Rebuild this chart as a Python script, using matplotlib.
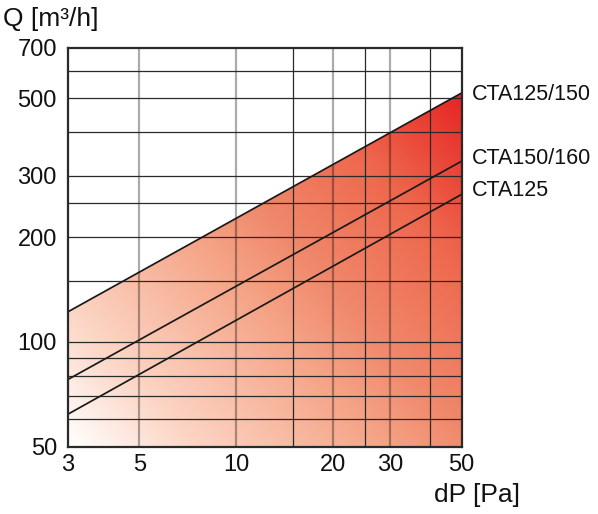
import numpy as np
import matplotlib
matplotlib.use("Agg")
import matplotlib.pyplot as plt
from matplotlib.colors import LinearSegmentedColormap
from matplotlib.ticker import FixedLocator, NullLocator, NullFormatter

plt.rcParams['font.family'] = ['Liberation Sans', 'DejaVu Sans']

# Data
dp_ends = [3, 50]
q_cta125_150 = [122, 518]
q_cta150_160 = [78, 330]
q_cta125 = [62, 265]
series_labels = ["CTA125/150", "CTA150/160", "CTA125"]

x_ticks = [3, 5, 10, 20, 30, 50]
y_ticks = [50, 100, 200, 300, 500, 700]
x_grid_light = [5, 10, 20, 30]
x_grid_dark = [15, 25, 40]
y_grid = [60, 70, 80, 90, 100, 150, 200, 250, 300, 400, 500, 600]

fig = plt.figure(figsize=(5.98, 5.14), dpi=100)
ax = fig.add_axes([68 / 598, 67.3 / 514, (461.5 - 68) / 598, (446.7 - 47.5) / 514])
ax.set_xscale('log')
ax.set_yscale('log')
ax.set_xlim(3, 50)
ax.set_ylim(50, 700)

# gradient fill under the top line
cmap = LinearSegmentedColormap.from_list('grad', [
    (0.0, '#ffffff'), (0.17, '#fcd6c6'), (0.44, '#f5a487'),
    (0.57, '#f0886b'), (0.78, '#ee674d'), (1.0, '#e62323')])
n = 300
u, v = np.meshgrid(np.linspace(0, 1, n), np.linspace(0, 1, n))
t = np.clip(0.55 * u + 0.5 * v, 0, 1)
im = ax.imshow(t, cmap=cmap, vmin=0, vmax=1, origin='lower', extent=[0, 1, 0, 1],
               transform=ax.transAxes, aspect='auto', zorder=0, interpolation='bilinear')
poly = ax.fill_between(dp_ends, [50, 50], q_cta125_150, facecolor='none', edgecolor='none')
im.set_clip_path(poly.get_paths()[0], transform=ax.transData)

# grid
for xv in x_grid_light:
    ax.axvline(xv, color='black', alpha=0.33, lw=1.6, zorder=1)
for xv in x_grid_dark:
    ax.axvline(xv, color='#2a2a2a', lw=0.9, zorder=1)
for yv in y_grid:
    ax.axhline(yv, color='#2a2a2a', lw=0.9, zorder=1)

# lines
for q in (q_cta125_150, q_cta150_160, q_cta125):
    ax.plot(dp_ends, q, color='#1a1a1a', lw=1.25, zorder=3, solid_capstyle='butt')

ax.xaxis.set_major_locator(FixedLocator(x_ticks))
ax.yaxis.set_major_locator(FixedLocator(y_ticks))
ax.xaxis.set_minor_locator(NullLocator())
ax.yaxis.set_minor_locator(NullLocator())
ax.xaxis.set_minor_formatter(NullFormatter())
ax.yaxis.set_minor_formatter(NullFormatter())
ax.set_xticklabels([str(x) for x in x_ticks])
ax.set_yticklabels([str(y) for y in y_ticks])
ax.tick_params(axis='both', length=0, labelsize=17, colors='#111111')
ax.tick_params(axis='y', pad=8)
ax.tick_params(axis='x', pad=5)

for s in ax.spines.values():
    s.set_color('#2a2a2a')
    s.set_linewidth(1.6)
    s.set_zorder(4)

# labels
fig.text(3 / 598, 1 - 19 / 514, 'Q [m³/h]', fontsize=19, va='center', ha='left', color='#111111')
fig.text(520 / 598, 1 - 495 / 514, 'dP [Pa]', fontsize=19, va='center', ha='right', color='#111111')
ylab = [94, 159, 191]
for lab, yp in zip(series_labels, ylab):
    fig.text(472 / 598, 1 - yp / 514, lab, fontsize=15.5, va='center', ha='left', color='#111111')

fig.savefig('out.png', dpi=100)
